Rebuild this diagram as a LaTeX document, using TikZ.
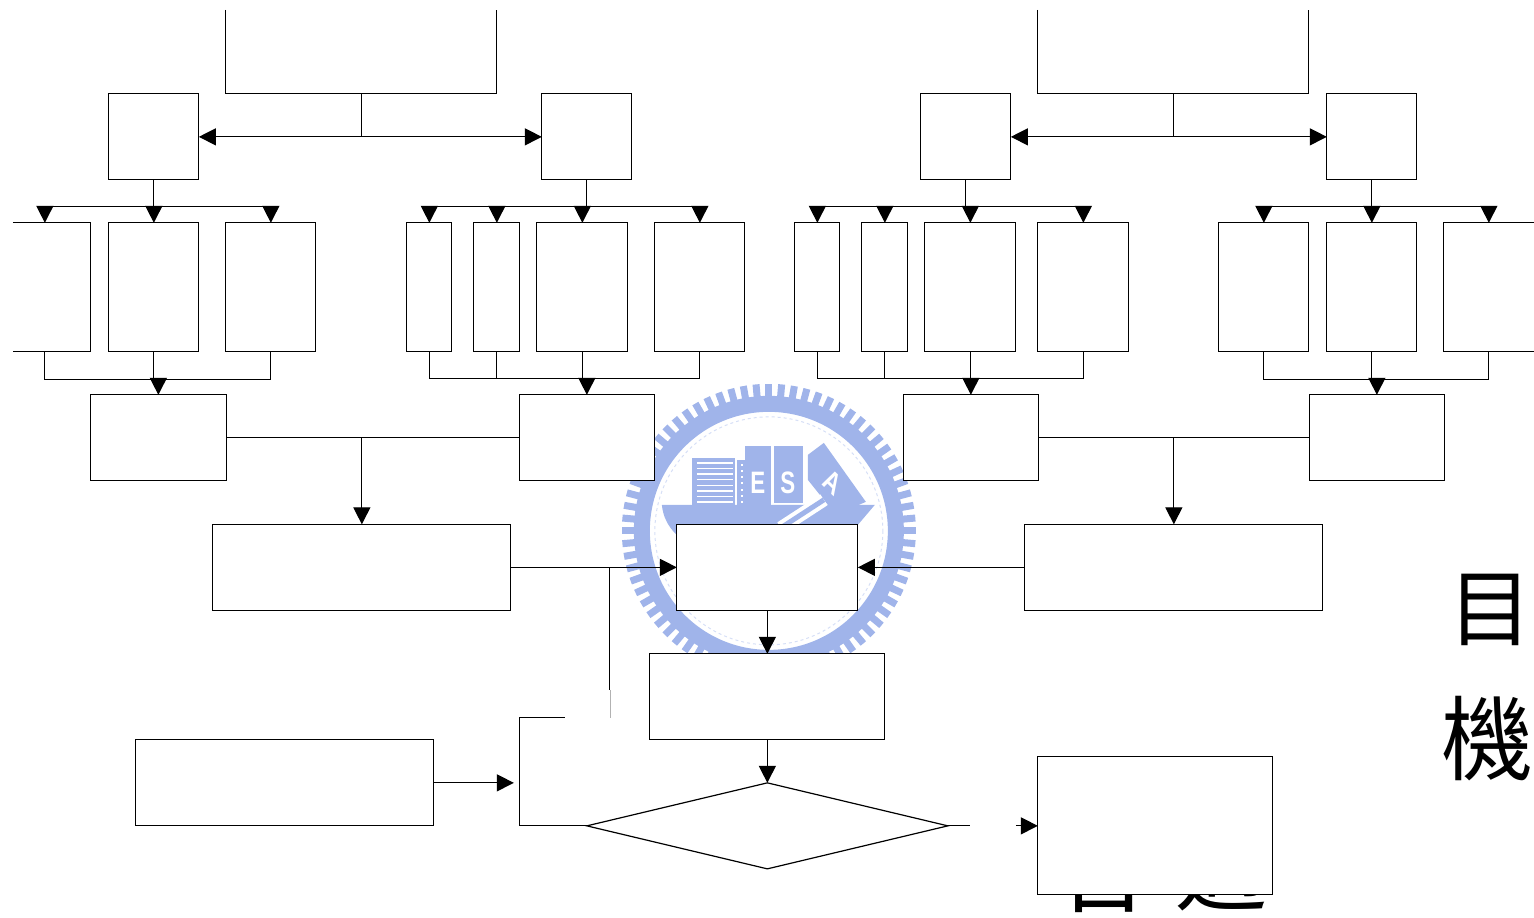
\documentclass[tikz,border=0pt]{standalone}
\usepackage{fontspec}
\usepackage{xcolor}
\usepackage{tikz}
\usetikzlibrary{arrows.meta,positioning,shapes.geometric,calc}
\newfontfamily\cjk{Noto Sans CJK TC}
\setsansfont{Liberation Sans}
\definecolor{sealblue}{HTML}{A0B4EA}
\definecolor{sealpale}{HTML}{D6DFF6}
\tikzset{
  blk/.style={draw=black, fill=white, inner sep=0pt, outer sep=0pt, line width=1.2pt},
  blkopen/.style={inner sep=0pt, outer sep=0pt},
  conn/.style={line width=1.2pt},
  bigchar/.style={inner sep=0pt, font=\cjk\fontsize{#1}{#1}\selectfont},
  sealtxt/.style={inner sep=0pt, text=white, xscale=0.72, font=\sffamily\bfseries\fontsize{31}{31}\selectfont}
}
\begin{document}
\begin{tikzpicture}[>={Triangle[length=17pt,width=17pt]}, x=1pt, y=-1pt]
\useasboundingbox (0.15,0.15) rectangle (1534.15,918.15);
% characters of the page behind the chart
\node[bigchar=84] (chmu) at (1491,610) {目};
\node[bigchar=92] (chji) at (1487.5,739) {機};
\node[bigchar=92] (chhe) at (1104,870) {合};
\node[bigchar=92] (chsh) at (1222,868) {適};
% the seal behind the chart
\coordinate (seal) at (769,531);
\foreach \a in {0,5,...,355} {\draw[sealblue, line width=7pt] (seal)++(\a:134) -- ++(\a:13);}
\draw[sealblue, line width=16pt] (seal) circle [radius=127];
\draw[sealpale, line width=1pt, dashed] (seal) circle [radius=114];
\fill[sealblue] (662,505) -- (875,505) -- (858,525) -- (858,600) -- (677,600) -- (677,535) .. controls (668,527) and (663,516) .. (662,505);
\fill[sealblue] (692,458) rectangle (735,505);
\foreach \i in {0,...,7} {\draw[white, line width=1.5pt] (697,463+\i*5.6) -- (733,463+\i*5.6);}
\fill[sealblue] (737,460) rectangle (745,505);
\fill[sealblue] (745,446) rectangle (771,505);
\fill[sealblue] (774,446) rectangle (803,503);
\fill[sealblue] (808,455) -- (824,443) -- (866,502) -- (836,515) -- (808,480) -- cycle;
\foreach \i in {0,...,6} {\fill[white] (741.5,464+\i*6.2) rectangle (743.5,466+\i*6.2);}
\draw[white, line width=13pt] (781,528) -- (824,500);
\draw[sealblue, line width=5pt] (781,528) -- (824,500);
\node[sealtxt] (sealE) at (758,483) {E};
\node[sealtxt] (sealS) at (788,483) {S};
\node[sealtxt, rotate=-35] (sealA) at (833,482) {A};
% the two open boxes at the top
\node[blkopen, minimum width=271pt, minimum height=84pt] (ta) at (361.5,52) {};
\node[blkopen, minimum width=271pt, minimum height=84pt] (tb) at (1173.5,52) {};
\draw[conn] (226,10) -- (226,94) -- (497,94) -- (497,10);
\draw[conn] (1038,10) -- (1038,94) -- (1309,94) -- (1309,10);
% second row
\foreach \n/\x in {1/154,2/587,3/966,4/1372} {
  \node[blk, minimum width=90pt, minimum height=86pt] (b\n) at (\x,137) {};
}
% third row, the first and the last run off the page
\node[blkopen, minimum width=92pt, minimum height=129pt] (c1) at (45,287.5) {};
\node[blkopen, minimum width=90pt, minimum height=129pt] (c14) at (1489,287.5) {};
\draw[conn] (13,223) -- (91,223) -- (91,352) -- (13,352);
\draw[conn] (1535,223) -- (1444,223) -- (1444,352) -- (1535,352);
\foreach \n/\x/\w in {2/154/90,3/271/90,4/429.5/45,5/497/46,6/582.5/91,7/700/90,8/817.5/45,9/885/46,10/970.5/91,11/1083.5/91,12/1264/90,13/1372/90} {
  \node[blk, minimum width=\w pt, minimum height=129pt] (c\n) at (\x,287.5) {};
}
% fourth row
\foreach \n/\x in {1/158.5,2/587,3/971,4/1377} {
  \node[blk, minimum width=135.5pt, minimum height=86pt] (d\n) at (\x,438) {};
}
% lower boxes
\node[blk, minimum width=298pt, minimum height=86pt] (e1) at (362,567.5) {};
\node[blk, minimum width=181pt, minimum height=86pt] (e2) at (767.5,567.5) {};
\node[blk, minimum width=298pt, minimum height=86pt] (e3) at (1174,567.5) {};
\node[blk, minimum width=235pt, minimum height=86pt] (f) at (767.5,697) {};
\node[blk, minimum width=298pt, minimum height=86pt] (g) at (285,783) {};
\node[blk, diamond, aspect=4.2, minimum width=361pt, minimum height=86pt] (k) at (767.5,826) {};
\node[blk, minimum width=235pt, minimum height=138pt] (h) at (1155.5,826) {};
% free ends
\coordinate (busa) at (0,207);
\coordinate (busb) at (0,380);
\coordinate (busc) at (0,379);
\coordinate (brktop) at (565,718);
\coordinate (brkleft) at (520,718);
\coordinate (brkin) at (514,783);
\coordinate (drop) at (609.5,690);
\coordinate (dropend) at (610.5,718);
\coordinate (kout) at (970,826);
\coordinate (hin) at (1016,826);
% top boxes to the second row
\draw[conn, <->] (b1) -- (b2);
\draw[conn, <->] (b3) -- (b4);
\draw[conn] (ta.south) -- (ta.south |- b1);
\draw[conn] (tb.south) -- (tb.south |- b3);
% second row down to the third
\draw[conn] (b1.south) -- (b1.south |- busa);
\draw[conn] (b2.south) -- (b2.south |- busa);
\draw[conn] (b3.south) -- (b3.south |- busa);
\draw[conn] (b4.south) -- (b4.south |- busa);
\draw[conn] (c1.north |- busa) -- (c3.north |- busa);
\draw[conn] (c4.north |- busa) -- (c7.north |- busa);
\draw[conn] (c8.north |- busa) -- (c11.north |- busa);
\draw[conn] (c12.north |- busa) -- (c14.north |- busa);
\foreach \t in {c1,c2,c3,c4,c5,c6,c7,c8,c9,c10,c11,c12,c13,c14} {\draw[conn, ->] (\t.north |- busa) -- (\t.north);}
% third row down to the fourth
\foreach \t in {c1,c2,c3,c12,c13,c14} {\draw[conn] (\t.south) -- (\t.south |- busb);}
\foreach \t in {c4,c5,c6,c7,c8,c9,c10,c11} {\draw[conn] (\t.south) -- (\t.south |- busc);}
\draw[conn] (c1.south |- busb) -- (c3.south |- busb);
\draw[conn] (c12.south |- busb) -- (c14.south |- busb);
\draw[conn] (c4.south |- busc) -- (c7.south |- busc);
\draw[conn] (c8.south |- busc) -- (c11.south |- busc);
\draw[conn, ->] (d1.north |- busb) -- (d1.north);
\draw[conn, ->] (d2.north |- busc) -- (d2.north);
\draw[conn, ->] (d3.north |- busc) -- (d3.north);
\draw[conn, ->] (d4.north |- busb) -- (d4.north);
% fourth row into the lower boxes
\draw[conn] (d1) -- (d2);
\draw[conn] (d3) -- (d4);
\draw[conn, ->] (e1.north |- d1) -- (e1.north);
\draw[conn, ->] (e3.north |- d3) -- (e3.north);
\draw[conn, ->] (e1) -- (e2);
\draw[conn, ->] (e3) -- (e2);
\draw[conn, ->] (e2) -- (f);
\draw[conn, ->] (f) -- (k);
% the way back from the decision
\draw[conn] (drop |- e1) -- (drop);
\draw[gray!60, line width=0.8pt] (dropend |- drop) -- (dropend);
\draw[conn] (brktop) -- (brkleft) -- (brkleft |- k) -- (k.west);
\draw[conn, ->] (g) -- (brkin);
\draw[conn] (k.east) -- (kout);
\draw[conn, ->] (hin) -- (h);
\end{tikzpicture}
\end{document}
